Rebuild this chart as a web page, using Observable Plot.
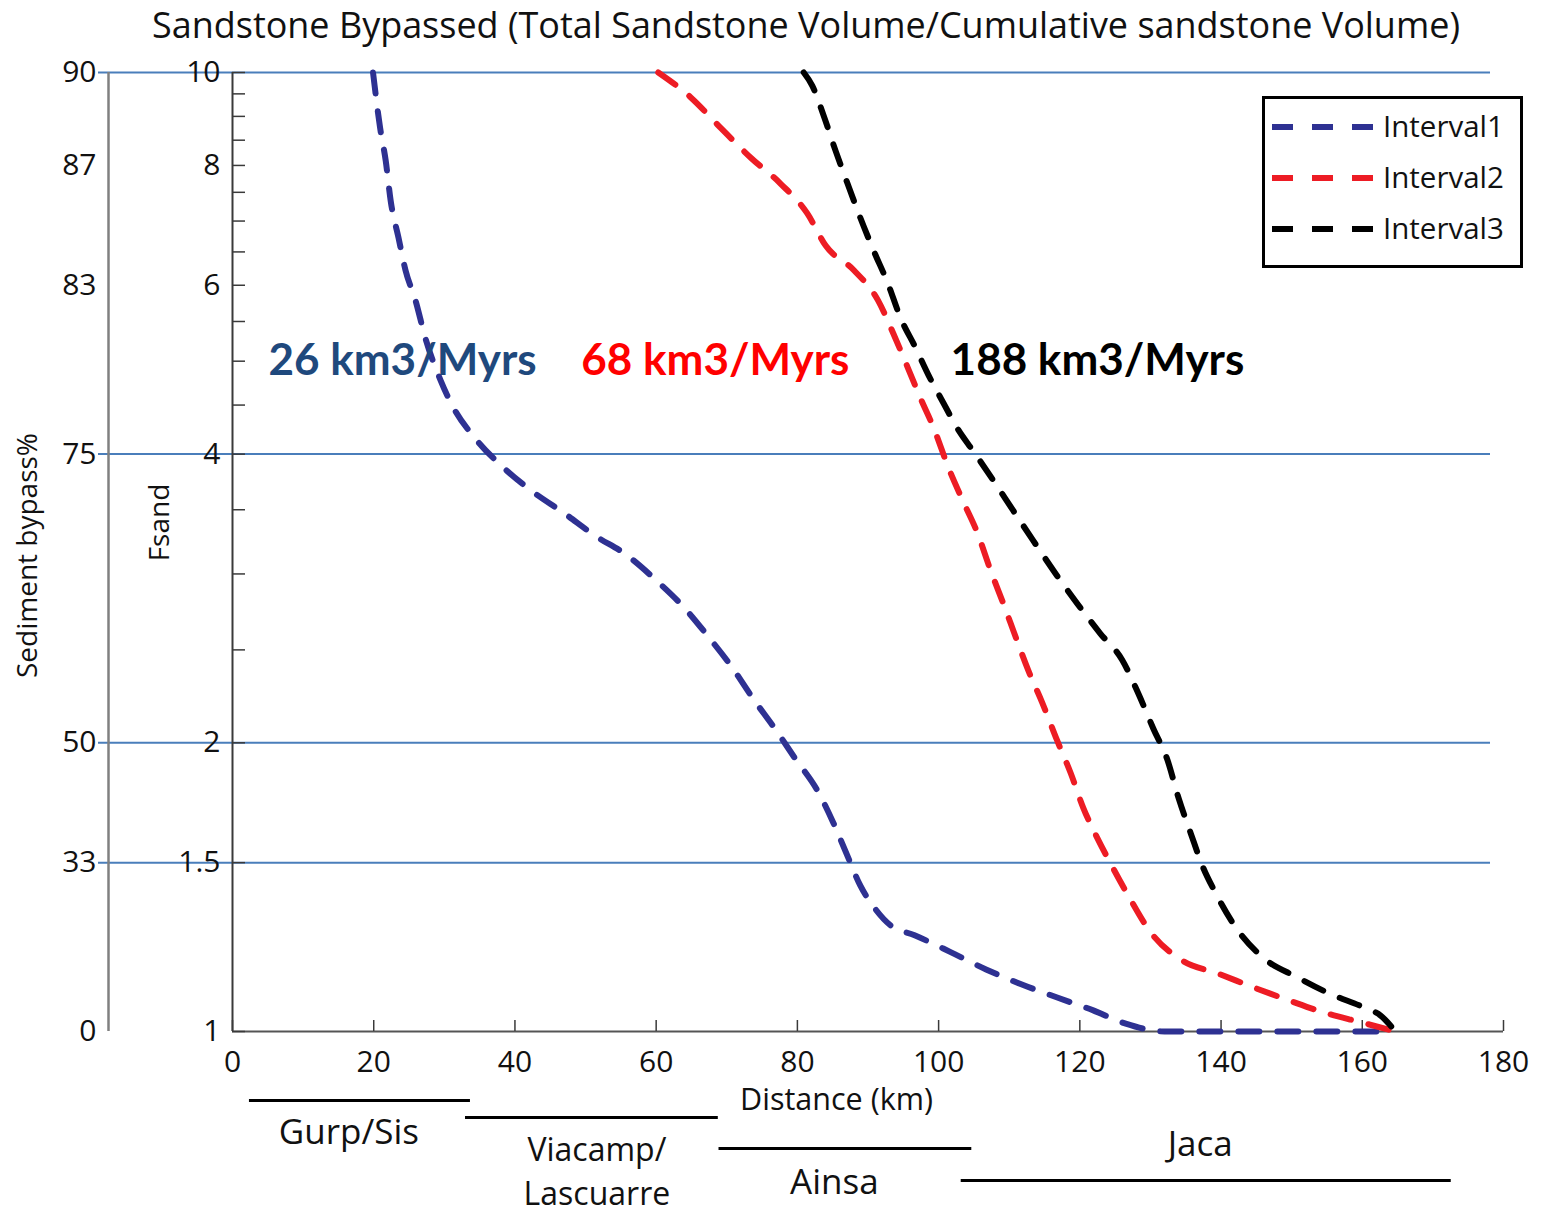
<!DOCTYPE html>
<html>
<head>
<meta charset="utf-8">
<script src="https://cdn.jsdelivr.net/npm/d3@7"></script>
<script src="https://cdn.jsdelivr.net/npm/@observablehq/plot@0.6"></script>
<style>
  body { margin: 0; background: #fff; }
  #wrap { position: relative; width: 1544px; height: 1212px; font-family: "Open Sans", sans-serif; }
  #title { position: absolute; left: 0; top: 0; }
  #chart { position: absolute; left: 0; top: 50px; }
  #legend { position: absolute; left: 1261px; top: 95px; }
</style>
</head>
<body>
<div id="wrap">
  <div id="title"></div>
  <div id="chart"></div>
  <div id="legend"></div>
</div>
<script>
// ---------------- DATA ----------------
const titleText = "Sandstone Bypassed (Total Sandstone Volume/Cumulative sandstone Volume)";
const seriesNames = ["Interval1", "Interval2", "Interval3"];

// [distance km, Fsand]
const interval1 = [[19.9,10],[20.9,8.76],[21.7,8.09],[22.4,7.35],[23.5,6.73],[24.5,6.22],[25.9,5.79],[27.3,5.29],
  [29.5,4.77],[31.3,4.47],[34.3,4.16],[38.4,3.87],[42.4,3.66],[47.0,3.47],[51.3,3.29],[55.8,3.14],[60.1,2.95],
  [63.9,2.77],[67.4,2.58],[70.7,2.40],[73.8,2.22],[76.8,2.07],[79.6,1.93],[82.9,1.78],[85.1,1.65],[87.0,1.53],
  [88.9,1.42],[91.1,1.34],[93.2,1.29],[96.6,1.26],[101.7,1.21],[106.8,1.16],[111.7,1.12],[116.8,1.085],
  [121.9,1.052],[126.5,1.019],[132.0,1.0],[162.5,1.0]];
const interval2 = [[60.3,10],[64.9,9.42],[69.1,8.76],[73.4,8.15],[77.6,7.66],[81.4,7.13],[84.0,6.60],[88.0,6.22],
  [91.4,5.79],[93.6,5.34],[95.6,4.93],[97.4,4.58],[99.3,4.26],[101.4,3.87],[103.4,3.58],[105.5,3.31],[107.4,3.02],
  [109.2,2.79],[110.9,2.58],[112.7,2.38],[114.7,2.20],[116.8,2.01],[118.7,1.86],[120.5,1.71],[122.5,1.59],
  [124.5,1.49],[127.0,1.38],[130.0,1.27],[134.5,1.186],[139.6,1.149],[144.7,1.111],[149.7,1.077],[154.5,1.047],
  [159.9,1.022],[164.7,1.0]];
const interval3 = [[80.9,10],[82.1,9.69],[83.6,9.07],[85.4,8.29],[87.1,7.66],[88.9,7.06],[90.8,6.52],[92.8,6.03],
  [94.6,5.55],[96.7,5.17],[98.6,4.83],[100.7,4.52],[102.7,4.25],[105.0,4.02],[107.8,3.75],[110.6,3.49],
  [113.4,3.25],[116.6,3.00],[119.7,2.79],[122.9,2.60],[126.0,2.44],[128.3,2.25],[130.4,2.07],[132.4,1.92],
  [134.0,1.75],[135.7,1.61],[137.5,1.48],[139.1,1.40],[142.2,1.28],[146.2,1.19],[150.7,1.14],[155.4,1.095],
  [160.3,1.059],[162.6,1.039],[164.7,1.0]];

const fsandTickValues = [10, 8, 6, 4, 2, 1.5, 1];
const bypassTickLabels = ["90", "87", "83", "75", "50", "33", "0"];
const fsandMinorTicks = [9.5, 9, 8.5, 7.5, 7, 6.5, 5.5, 5, 4.5, 3.5, 3, 2.5];
const gridFsand = [10, 4, 2, 1.5];
const distanceTicks = [0, 20, 40, 60, 80, 100, 120, 140, 160, 180];

const rateLabels = ["26 km3/Myrs", "68 km3/Myrs", "188 km3/Myrs"];
const rateX = [5.1, 49.4, 101.7];
const rateY = [5.0, 5.0, 5.0];

const formationNames = ["Gurp/Sis", "Viacamp/\nLascuarre", "Ainsa", "Jaca"];
const formationStart = [2.4, 33.0, 68.9, 103.2];
const formationEnd = [33.7, 68.8, 104.7, 172.6];

// ---------------- STYLE ----------------
const seriesColors = ["#2e3192", "#ed1c24", "#000000"];
const rateColors = ["#1f497d", "#ff0000", "#000000"];
const gridColor = "#4a7ebb";
const dash = "21,18";

const W = 1544, H = 1162;
const mL = 232, mR = 41, mT = 22, mB = 181;
const frameW = W - mL - mR;
const frameH = H - mT - mB;

// formation layout: bar offset, label offset, label dx, font size, line height
const formationLayout = [
  {bar: 69, label: 99, dx: -11, size: 35, lh: 1.2},
  {bar: 86, label: 137, dx: 5, size: 32, lh: 1.375},
  {bar: 117, label: 149, dx: -11, size: 35, lh: 1.2},
  {bar: 149, label: 111, dx: -6, size: 35, lh: 1.2}
];

// ---------------- BUILD ----------------
const series = [interval1, interval2, interval3];
const curveRows = seriesNames.flatMap((name, i) =>
  series[i].map(([d, f]) => ({series: name, distance: d, fsand: f})));

const marks = [];

marks.push(Plot.ruleY(gridFsand, {stroke: gridColor, strokeWidth: 2, insetLeft: -134, insetRight: 13}));
marks.push(Plot.ruleX([0], {dx: -124, stroke: "#808080", strokeWidth: 2.5}));
marks.push(Plot.ruleX([0], {stroke: "#3a3a3a", strokeWidth: 2}));
marks.push(Plot.ruleY([1], {stroke: "#555", strokeWidth: 2}));
marks.push(Plot.ruleY(fsandTickValues.concat(fsandMinorTicks), {stroke: "#3a3a3a", strokeWidth: 1.5, insetRight: frameW - 13}));
marks.push(Plot.ruleX(distanceTicks, {stroke: "#3a3a3a", strokeWidth: 1.5, insetTop: frameH - 11}));
marks.push(Plot.axisY({ticks: fsandTickValues, tickSize: 0, tickPadding: 12, tickFormat: d => String(d), fontSize: 30, label: null}));
marks.push(Plot.axisY({ticks: fsandTickValues, tickSize: 0, tickPadding: 136,
  tickFormat: d => bypassTickLabels[fsandTickValues.indexOf(d)], fontSize: 30, label: null}));
marks.push(Plot.axisX({ticks: distanceTicks, tickSize: 0, tickPadding: 19, fontSize: 30, label: null}));

marks.push(Plot.line(curveRows, {x: "distance", y: "fsand", z: "series", stroke: "series",
  strokeWidth: 6, strokeDasharray: dash, curve: "monotone-x"}));

rateLabels.forEach((t, i) => {
  marks.push(Plot.text([t], {x: () => rateX[i], y: () => rateY[i], text: d => d, textAnchor: "start",
    fill: rateColors[i], fontSize: 44, fontWeight: "bold", fontFamily: "Lato"}));
});

marks.push(Plot.text(["Fsand"], {text: d => d, frameAnchor: "left", textAnchor: "middle", rotate: -90, dx: -72, dy: -29.5, fontSize: 28}));
marks.push(Plot.text(["Sediment bypass%"], {text: d => d, frameAnchor: "left", textAnchor: "middle", rotate: -90, dx: -204, dy: 3.5, fontSize: 28}));
marks.push(Plot.text(["Distance (km)"], {text: d => d, frameAnchor: "bottom", textAnchor: "middle", dx: -31.5, dy: 69, fontSize: 30.5, lineAnchor: "middle"}));

formationNames.forEach((name, i) => {
  const lay = formationLayout[i];
  marks.push(Plot.ruleY([{a: formationStart[i], b: formationEnd[i]}], {x1: "a", x2: "b", y: () => 1, dy: lay.bar, stroke: "#000", strokeWidth: 3}));
  marks.push(Plot.text([name], {x: () => (formationStart[i] + formationEnd[i]) / 2, y: () => 1, dy: lay.label, dx: lay.dx,
    text: d => d, fontSize: lay.size, lineHeight: lay.lh, lineAnchor: "middle"}));
});

const chart = Plot.plot({
  width: W, height: H,
  marginLeft: mL, marginRight: mR, marginTop: mT, marginBottom: mB,
  style: {fontFamily: "Open Sans", fontSize: "28px", color: "#111", background: "transparent", overflow: "visible"},
  x: {domain: [0, 180]},
  y: {type: "log", domain: [1, 10]},
  color: {domain: seriesNames, range: seriesColors},
  marks
});
document.getElementById("chart").appendChild(chart);

// title
const ns = "http://www.w3.org/2000/svg";
const tsvg = document.createElementNS(ns, "svg");
tsvg.setAttribute("width", W); tsvg.setAttribute("height", 50);
const tt = document.createElementNS(ns, "text");
tt.setAttribute("x", 806); tt.setAttribute("y", 38); tt.setAttribute("text-anchor", "middle");
tt.setAttribute("font-family", "Open Sans"); tt.setAttribute("font-size", 36);
tt.setAttribute("textLength", 1308); tt.setAttribute("lengthAdjust", "spacingAndGlyphs");
tt.setAttribute("fill", "#111");
tt.textContent = titleText;
tsvg.appendChild(tt);
document.getElementById("title").appendChild(tsvg);

// legend
const lsvg = document.createElementNS(ns, "svg");
lsvg.setAttribute("width", 264); lsvg.setAttribute("height", 174);
const box = document.createElementNS(ns, "rect");
box.setAttribute("x", 2.5); box.setAttribute("y", 2.5); box.setAttribute("width", 258); box.setAttribute("height", 169);
box.setAttribute("fill", "#fff"); box.setAttribute("stroke", "#000"); box.setAttribute("stroke-width", 3);
lsvg.appendChild(box);
seriesNames.forEach((name, i) => {
  const y = 32 + i * 51;
  const ln = document.createElementNS(ns, "line");
  ln.setAttribute("x1", 11); ln.setAttribute("x2", 113); ln.setAttribute("y1", y); ln.setAttribute("y2", y);
  ln.setAttribute("stroke", seriesColors[i]); ln.setAttribute("stroke-width", 6); ln.setAttribute("stroke-dasharray", "21,19");
  lsvg.appendChild(ln);
  const tx = document.createElementNS(ns, "text");
  tx.setAttribute("x", 122); tx.setAttribute("y", y); tx.setAttribute("dy", "0.35em");
  tx.setAttribute("font-family", "Open Sans"); tx.setAttribute("font-size", 29.5); tx.setAttribute("fill", "#111");
  tx.textContent = name;
  lsvg.appendChild(tx);
});
document.getElementById("legend").appendChild(lsvg);
</script>
</body>
</html>
